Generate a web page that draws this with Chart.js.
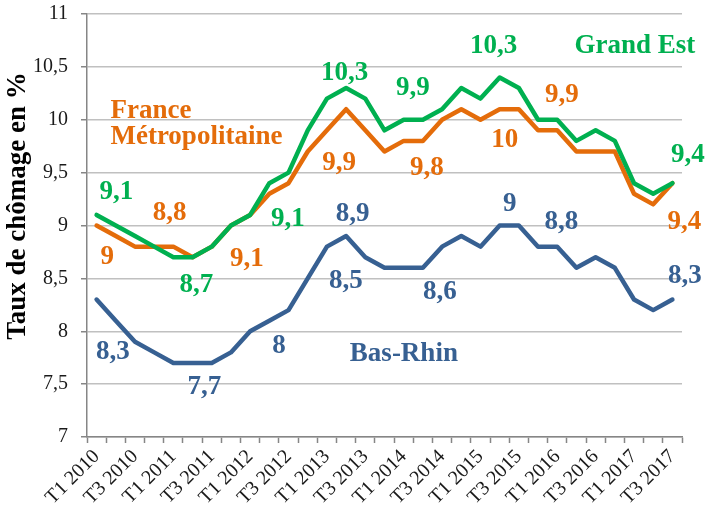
<!DOCTYPE html>
<html>
<head>
<meta charset="utf-8">
<script src="https://cdn.jsdelivr.net/npm/chart.js@4/dist/chart.umd.min.js"></script>
<style>
  html, body { margin: 0; padding: 0; background: #ffffff; }
  #wrap { width: 705px; height: 515px; position: relative; }
</style>
</head>
<body>
<div id="wrap"><canvas id="c" width="705" height="515"></canvas></div>
<script>
const categories = [
  "T1 2010","T2 2010","T3 2010","T4 2010",
  "T1 2011","T2 2011","T3 2011","T4 2011",
  "T1 2012","T2 2012","T3 2012","T4 2012",
  "T1 2013","T2 2013","T3 2013","T4 2013",
  "T1 2014","T2 2014","T3 2014","T4 2014",
  "T1 2015","T2 2015","T3 2015","T4 2015",
  "T1 2016","T2 2016","T3 2016","T4 2016",
  "T1 2017","T2 2017","T3 2017"
];
const grandEst = [9.1, 9.0, 8.9, 8.8, 8.7, 8.7, 8.8, 9.0, 9.1, 9.4, 9.5, 9.9, 10.2, 10.3, 10.2, 9.9,
                  10.0, 10.0, 10.1, 10.3, 10.2, 10.4, 10.3, 10.0, 10.0, 9.8, 9.9, 9.8, 9.4, 9.3, 9.4];
const franceMetro = [9.0, 8.9, 8.8, 8.8, 8.8, 8.7, 8.8, 9.0, 9.1, 9.3, 9.4, 9.7, 9.9, 10.1, 9.9, 9.7,
                     9.8, 9.8, 10.0, 10.1, 10.0, 10.1, 10.1, 9.9, 9.9, 9.7, 9.7, 9.7, 9.3, 9.2, 9.4];
const basRhin = [8.3, 8.1, 7.9, 7.8, 7.7, 7.7, 7.7, 7.8, 8.0, 8.1, 8.2, 8.5, 8.8, 8.9, 8.7, 8.6,
                 8.6, 8.6, 8.8, 8.9, 8.8, 9.0, 9.0, 8.8, 8.8, 8.6, 8.7, 8.6, 8.3, 8.2, 8.3];
const yTicks = [7, 7.5, 8, 8.5, 9, 9.5, 10, 10.5, 11];
const yTitle = "Taux de chômage en %";

// Text annotations: [text, series, category position, value position, align]
const annotations = [
  ["9,1", "g", 1.03, 9.312, "center"],
  ["8,7", "g", 5.20, 8.437, "center"],
  ["9,1", "g", 9.97, 9.061, "center"],
  ["10,3", "g", 12.92, 10.439, "center"],
  ["9,9", "g", 16.48, 10.297, "center"],
  ["10,3", "g", 20.68, 10.700, "center"],
  ["9,4", "g", 30.80, 9.667, "center"],
  ["Grand Est", "g", 28.05, 10.700, "center"],
  ["9", "o", 0.55, 8.699, "center"],
  ["8,8", "o", 3.81, 9.115, "center"],
  ["9,1", "o", 7.83, 8.680, "center"],
  ["9,9", "o", 12.63, 9.588, "center"],
  ["9,8", "o", 17.21, 9.541, "center"],
  ["10", "o", 21.26, 9.809, "center"],
  ["9,9", "o", 24.24, 10.234, "center"],
  ["9,4", "o", 30.63, 9.030, "center"],
  ["France", "o", 0.72, 10.080, "left"],
  ["Métropolitaine", "o", 0.72, 9.840, "left"],
  ["8,3", "b", 0.85, 7.801, "center"],
  ["7,7", "b", 5.61, 7.476, "center"],
  ["8", "b", 9.50, 7.861, "center"],
  ["8,5", "b", 12.99, 8.478, "center"],
  ["8,9", "b", 13.34, 9.109, "center"],
  ["8,6", "b", 17.89, 8.368, "center"],
  ["9", "b", 21.53, 9.203, "center"],
  ["8,8", "b", 24.22, 9.036, "center"],
  ["8,3", "b", 30.65, 8.525, "center"],
  ["Bas-Rhin", "b", 16.01, 7.785, "center"]
];

const COLORS = { g: "#00B050", o: "#E46C0A", b: "#376092" };
const SERIF = '"Liberation Serif", "Times New Roman", serif';

const annotPlugin = {
  id: "annot",
  afterDatasetsDraw(chart) {
    const ctx = chart.ctx;
    const xs = chart.scales.x, ys = chart.scales.y;
    ctx.save();
    ctx.font = "bold 27px " + SERIF;
    ctx.textBaseline = "middle";
    annotations.forEach(a => {
      ctx.fillStyle = COLORS[a[1]];
      ctx.textAlign = a[4];
      ctx.fillText(a[0], xs.getPixelForValue(a[2]), ys.getPixelForValue(a[3]));
    });
    ctx.restore();
  },
  afterDraw(chart) {
    const ctx = chart.ctx;
    ctx.save();
    ctx.font = "bold 27px " + SERIF;
    ctx.fillStyle = "#000000";
    ctx.textAlign = "center";
    ctx.textBaseline = "middle";
    ctx.translate(18, 206);
    ctx.rotate(-Math.PI / 2);
    ctx.fillText(yTitle, 0, 0);
    ctx.restore();
  }
};

new Chart(document.getElementById("c"), {
  type: "line",
  data: {
    labels: categories,
    datasets: [
      { label: "Grand Est", data: grandEst, borderColor: COLORS.g },
      { label: "France Métropolitaine", data: franceMetro, borderColor: COLORS.o },
      { label: "Bas-Rhin", data: basRhin, borderColor: COLORS.b }
    ].map(d => Object.assign(d, {
      borderWidth: 4.5, pointRadius: 0, pointHoverRadius: 0, tension: 0,
      fill: false, borderJoinStyle: "round", borderCapStyle: "round"
    }))
  },
  options: {
    responsive: false,
    animation: false,
    events: [],
    layout: { padding: { left: 0, right: 23, top: 14, bottom: 0 } },
    plugins: { legend: { display: false }, tooltip: { enabled: false }, title: { display: false } },
    scales: {
      x: {
        type: "category",
        offset: true,
        grid: { display: true, drawOnChartArea: false, drawTicks: true, tickLength: 6, offset: true,
                tickColor: "#868686", tickWidth: 1.5 },
        border: { display: true, color: "#868686", width: 1.5 },
        ticks: {
          autoSkip: false, minRotation: 45, maxRotation: 45, padding: 2,
          color: "#1a1a1a", font: { family: SERIF, size: 20 },
          callback: function (v, i) { return i % 2 === 0 ? categories[i] : ""; }
        },
        afterFit(scale) { scale.height = 78; scale.paddingLeft = 0; scale.paddingRight = 0; }
      },
      y: {
        min: 7, max: 11,
        afterBuildTicks(scale) { scale.ticks = yTicks.map(v => ({ value: v })); },
        grid: { color: "#C0C0C0", lineWidth: 1.5, drawTicks: true, tickLength: 6,
                tickColor: "#868686", tickWidth: 1.5 },
        border: { display: true, color: "#868686", width: 1.5 },
        ticks: {
          padding: 13, color: "#1a1a1a", font: { family: SERIF, size: 20 },
          callback: v => String(v).replace(".", ",")
        },
        afterFit(scale) { scale.width = 87; scale.paddingTop = 0; scale.paddingBottom = 0; }
      }
    }
  },
  plugins: [annotPlugin]
});
</script>
</body>
</html>
